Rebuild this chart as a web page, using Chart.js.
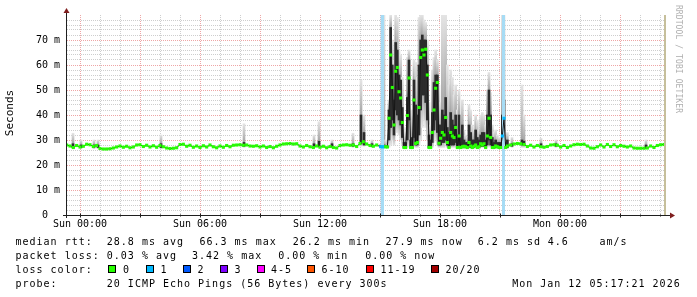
<!DOCTYPE html>
<html><head><meta charset="utf-8">
<script src="https://cdn.jsdelivr.net/npm/chart.js@4/dist/chart.umd.min.js"></script>
<style>
html,body{margin:0;padding:0;background:#fff;}
#wrap{position:relative;width:697px;height:297px;overflow:hidden;background:#fff;}
#c{position:absolute;left:0;top:0;}
.t{position:absolute;font-family:'DejaVu Sans Mono',monospace;font-size:10px;line-height:10px;white-space:pre;color:#000;letter-spacing:1px;}
.sw{position:absolute;box-sizing:border-box;width:8px;height:8px;border:1px solid #000;top:265px;}
.rot{position:absolute;font-family:'DejaVu Sans Mono',monospace;white-space:pre;line-height:10px;height:10px;text-align:center;transform-origin:50% 50%;}
</style></head><body>
<div id="wrap"><canvas id="c" width="697" height="297"></canvas></div>
<script>
// ---------------- data ----------------
const xTickHours = [0, 6, 12, 18, 24];
const xTickLabels = ['Sun 00:00', 'Sun 06:00', 'Sun 12:00', 'Sun 18:00', 'Mon 00:00'];
const yTickValues = [0, 10, 20, 30, 40, 50, 60, 70];
const yTickLabels = ['0  ', '10 m', '20 m', '30 m', '40 m', '50 m', '60 m', '70 m'];

// quiet period before the disturbance: samples every 10 min starting at -40 min (relative to Sun 00:00)
const quietAStartMin = -40, quietAStepMin = 10;
const quietAMedian = [
  28.0, 27.6, 27.0, 27.8,
  27.2, 27.5, 28.3, 28.1, 27.4, 27.8,
  26.6, 26.4, 26.4, 26.5, 26.8, 27.2,
  27.6, 27.1, 27.5, 26.9, 27.2, 28.0,
  28.1, 27.4, 27.9, 27.2, 27.7, 27.1,
  27.8, 27.3, 26.8, 26.6, 26.7, 26.9,
  28.2, 28.3, 27.5, 27.9, 27.1, 27.6,
  27.0, 27.7, 27.2, 28.0, 27.3, 26.9,
  27.6, 27.1, 27.8, 27.3, 27.9, 28.0,
  28.1, 27.9, 28.0, 27.6, 27.5, 27.7,
  27.2, 27.6, 27.0, 27.4, 26.9, 27.5,
  28.0, 28.4, 28.5, 28.6, 28.4, 28.5,
  27.6, 27.2, 27.8, 27.3, 27.0, 27.6,
  27.1, 27.5, 26.9, 27.4, 27.0, 26.8,
  27.8, 28.0, 28.1, 27.9, 28.0, 27.4,
  28.6, 29.3, 28.4, 27.8, 27.5, 28.0
];

// disturbed period: samples every 5 min starting at 902 min
const spikeStartMin = 902, spikeStepMin = 5;
const spikeMedian = [
  27.3, 27.3, 27.3, 27.3, 27.2,  38.7, 64.0, 51.0, 36.0, 57.5,
  59.0, 49.3, 46.8, 37.0, 27.0,  27.0, 39.8, 54.8, 27.0, 27.0,
  46.0, 28.6, 29.0, 43.0, 63.0,  66.0, 64.0, 66.3, 56.0, 27.0,
  27.0, 33.0, 42.0, 50.7, 53.0,  28.7, 30.7, 33.0, 32.0, 39.0,
  29.0, 27.0, 33.0, 31.6, 31.0,  35.0, 27.0, 31.6, 27.0, 27.3,
  27.5, 27.3, 27.0, 29.0, 27.6,  27.0, 27.5, 28.0, 27.0, 27.3,
  28.5, 28.0, 28.5, 27.0, 31.6,  38.7, 31.0, 27.0, 27.0, 27.6,
  27.3, 27.0, 27.0, 31.6, 38.7,  27.0, 27.6
];
const spikeMin = [
  27, 27, 27, 26.8, 26.8,  27, 28, 30, 28, 33,
  33, 32, 30, 28, 26.5,  26.5, 27, 30, 26.5, 26.5,
  28, 27, 27, 28, 30,  35, 38, 35, 30, 26.5,
  26.5, 27, 29, 30, 28,  27, 27, 27, 27, 28,
  27, 26.5, 27, 27, 27,  27, 26.5, 27, 26.5, 26.5,
  26.5, 26.5, 26.5, 27, 26.5,  26.5, 26.5, 27, 26.5, 26.5,
  27, 27, 27, 26.5, 27,  28, 27, 26.5, 26.5, 26.5,
  26.5, 26.5, 26.5, 27, 28,  26.5, 26.5
];
const spikeCoreLo = [
  27, 27, 27, 27, 27,  30, 35, 38, 32, 42,
  40, 38, 36, 31, 27,  27, 30, 38, 27, 27,
  31, 28, 28, 32, 42,  48, 48, 45, 38, 27,
  27, 29, 34, 38, 33,  28, 28, 29, 29, 30,
  28, 27, 28, 28, 28,  29, 27, 28, 27, 27,
  27, 27, 27, 27.5, 27,  27, 27, 27.5, 27, 27,
  27.5, 27.5, 27.5, 27, 28,  30, 28, 27, 27, 27,
  27, 27, 27, 28, 30,  27, 27
];
const spikeCoreHi = [
  28, 28, 28, 27.6, 27.6,  42, 75, 60, 46, 69,
  66, 56, 54, 43, 29,  29, 47, 62, 30, 31,
  54, 44, 40, 60, 70,  72, 70, 70, 60, 32,
  30, 41, 53, 56, 56,  36, 36, 42, 40, 47,
  35, 33, 41, 38, 36,  40, 32, 40, 31, 36,
  30, 29, 29, 36, 33,  30, 30, 34, 31, 30,
  32, 33, 33, 30, 40,  50, 40, 31, 29, 30,
  29, 29, 29, 40, 46,  29, 30
];
const spikeMax = [
  28, 28, 80, 30, 28,  46, 80, 70, 62, 80,
  79, 66, 64, 55, 31,  35, 63, 66, 40, 42,
  62, 61, 55, 79, 80,  80, 78, 77, 70, 45,
  36, 58, 63, 66, 62,  52, 45, 80, 80, 80,
  60, 52, 58, 55, 48,  52, 42, 50, 38, 46,
  34, 32, 31, 44, 42,  36, 34, 40, 38, 34,
  40, 41, 40, 36, 50,  57, 49, 36, 33, 34,
  32, 31, 31, 80, 80,  31, 33
];

// quiet period after the disturbance: every 10 min starting at 1292 min
const quietBStartMin = 1292, quietBStepMin = 10;
const quietBMedian = [
  28.0, 28.4, 28.6, 28.5, 28.2, 27.4,
  27.9, 27.2, 27.8, 27.3, 27.1, 27.4,
  28.0, 28.1, 27.9, 27.2, 27.8, 27.0,
  27.6, 28.1, 28.3, 28.2, 28.3, 27.6,
  26.8, 26.7, 27.3, 28.0, 27.2, 28.2,
  27.4, 28.1, 27.3, 27.8, 27.5, 27.2,
  27.6, 26.8, 26.7, 26.7, 26.7, 26.8,
  27.6, 27.0, 27.8, 28.1, 28.2
];

// isolated smoke spikes in the quiet periods (hours)
const smokeSpotHours  = [-0.35, 0.05, 0.7, 0.9, 4.05, 8.2, 11.7, 11.95, 12.6, 13.65, 14.05, 14.2, 14.6, 21.6, 22.1, 22.2, 23.05, 23.8, 28.3];
const smokeSpotMin    = [26.5, 26.5, 26.5, 26.5, 26.5, 27, 27, 27, 27, 27, 27.5, 27.5, 27, 27, 27, 27, 27, 27, 26.5];
const smokeSpotCoreLo = [27, 27, 27, 27, 27, 27.5, 27.5, 27.5, 27.5, 27.5, 28.5, 28, 27.5, 27.5, 28, 28, 27.5, 27.5, 27];
const smokeSpotCoreHi = [28.5, 28, 28, 28, 28.5, 29, 28.5, 29.5, 28.5, 28.5, 40, 33, 28.5, 28.5, 30, 29.5, 28.5, 28.5, 28];
const smokeSpotMax    = [32.7, 30, 30, 30, 32, 36.5, 32, 37.3, 30, 32.7, 54, 40, 30, 31, 52, 40, 30.7, 30, 30];

// packet loss windows (hours) with 1 of 20 lost
const lossStartHours = [15.03, 21.1];
const lossEndHours   = [15.2, 21.25];
const lossCount      = [1, 1];
const nowHour = 29.25;
const xMinHour = -0.65, xMaxHour = 29.35;
const yMaxMs = 80;

const lossLabels = ['0', '1', '2', '3', '4-5', '6-10', '11-19', '20/20'];
const lossColors = ['#26ff00', '#00b8ff', '#0059ff', '#7e00ff', '#ff00ff', '#ff5500', '#ff0000', '#a10000'];

// ---------------- build datasets ----------------
const medianPts = [];
quietAMedian.forEach((v, i) => medianPts.push({x: (quietAStartMin + i * quietAStepMin) / 60, y: v}));
spikeMedian.forEach((v, i) => medianPts.push({x: (spikeStartMin + i * spikeStepMin) / 60, y: v}));
quietBMedian.forEach((v, i) => medianPts.push({x: (quietBStartMin + i * quietBStepMin) / 60, y: v}));

const outerPts = [], corePts = [];
smokeSpotHours.forEach((h, i) => {
  outerPts.push({x: h, y: [smokeSpotMin[i], smokeSpotMax[i]]});
  corePts.push({x: h, y: [smokeSpotCoreLo[i], smokeSpotCoreHi[i]]});
});
spikeMedian.forEach((v, i) => {
  const h = (spikeStartMin + i * spikeStepMin) / 60;
  outerPts.push({x: h, y: [spikeMin[i], spikeMax[i]]});
  corePts.push({x: h, y: [spikeCoreLo[i], spikeCoreHi[i]]});
});

function lossIndex(h) {
  for (let i = 0; i < lossStartHours.length; i++) {
    if (h >= lossStartHours[i] - 0.01 && h <= lossEndHours[i] + 0.01) return lossCount[i];
  }
  return 0;
}

const RED_GRID = '#eea6a6';
const GRAY_GRID = '#cecece';

const decor = {
  id: 'decor',
  afterDatasetDraw(chart, args) {
    if (args.index !== 1) return;
    const {ctx, chartArea: a, scales: {x}} = chart;
    ctx.save();
    ctx.fillStyle = '#a6dcf5';
    for (let i = 0; i < lossStartHours.length; i++) {
      const x0 = x.getPixelForValue(lossStartHours[i]);
      const x1 = x.getPixelForValue(lossEndHours[i]);
      ctx.fillRect(x0, a.top, x1 - x0, a.bottom - a.top);
    }
    ctx.restore();
  },
  afterDraw(chart) {
    const {ctx, chartArea: a, scales: {x}} = chart;
    ctx.save();
    // now marker
    const nx = x.getPixelForValue(nowHour);
    ctx.fillStyle = '#c6bf9b';
    ctx.fillRect(Math.round(nx) - 1, a.top, 2, a.bottom - a.top);
    // axes
    ctx.strokeStyle = '#1f1f1f';
    ctx.lineWidth = 1;
    ctx.beginPath();
    ctx.moveTo(a.left - 4, a.bottom + 0.5);
    ctx.lineTo(a.right + 4, a.bottom + 0.5);
    ctx.moveTo(a.left - 0.5, a.bottom + 3);
    ctx.lineTo(a.left - 0.5, a.top - 4);
    ctx.stroke();
    // tick marks
    ctx.beginPath();
    x.ticks.forEach(t => {
      const px = Math.round(x.getPixelForValue(t.value)) + 0.5;
      const len = t.value % 3 === 0 ? 2 : 1;
      ctx.moveTo(px, a.bottom - len + 0.5);
      ctx.lineTo(px, a.bottom + len + 0.5);
    });
    ctx.stroke();
    // arrows
    ctx.fillStyle = '#7f1e1e';
    ctx.beginPath();
    ctx.moveTo(a.left - 0.5, a.top - 7);
    ctx.lineTo(a.left - 3.5, a.top - 2);
    ctx.lineTo(a.left + 2.5, a.top - 2);
    ctx.closePath();
    ctx.fill();
    ctx.beginPath();
    ctx.moveTo(a.right + 8, a.bottom + 0.5);
    ctx.lineTo(a.right + 3, a.bottom - 2.5);
    ctx.lineTo(a.right + 3, a.bottom + 3.5);
    ctx.closePath();
    ctx.fill();
    ctx.restore();
  }
};

function outerColor(c) {
  if (!c.raw || !c.chart.chartArea) return '#d8d8d8';
  const y = c.chart.scales.y;
  const core = corePts[c.dataIndex];
  const yHi = y.getPixelForValue(c.raw.y[1]);
  const yLo = y.getPixelForValue(c.raw.y[0]);
  if (yLo - yHi < 2) return '#c8c8c8';
  const g = c.chart.ctx.createLinearGradient(0, yHi, 0, yLo);
  const tH = Math.min(1, Math.max(0, (y.getPixelForValue(core.y[1]) - yHi) / (yLo - yHi)));
  const tL = Math.min(1, Math.max(tH, (y.getPixelForValue(core.y[0]) - yHi) / (yLo - yHi)));
  g.addColorStop(0, '#e4e4e4');
  g.addColorStop(tH, '#a4a4a4');
  g.addColorStop(tL, '#a4a4a4');
  g.addColorStop(1, '#e4e4e4');
  return g;
}

const hourTicks = [];
for (let h = 0; h <= 29; h++) hourTicks.push({value: h});
const msTicks = [];
for (let v = 0; v < yMaxMs; v += 2) msTicks.push({value: v});

new Chart(document.getElementById('c'), {
  data: {
    datasets: [
      {type: 'bar', data: outerPts, order: 2, backgroundColor: outerColor, borderWidth: 0, barThickness: 2, grouped: false},
      {type: 'bar', data: corePts, order: 1, backgroundColor: '#2c2c2c', borderWidth: 0, barThickness: 2, grouped: false},
      {type: 'line', data: medianPts, order: 0, borderColor: '#161616', borderWidth: 1, tension: 0,
       pointStyle: 'rect', pointRadius: 2.2, pointBorderWidth: 0,
       pointBackgroundColor: c => (c.raw && lossIndex(c.raw.x) > 0) ? lossColors[1] : lossColors[0]}
    ]
  },
  options: {
    responsive: false, animation: false, devicePixelRatio: 1,
    layout: {padding: {left: 0, right: 30, top: 15, bottom: 0}},
    plugins: {legend: {display: false}, tooltip: {enabled: false}, title: {display: false}},
    scales: {
      x: {
        type: 'linear', min: xMinHour, max: xMaxHour, offset: false,
        afterBuildTicks: s => { s.ticks = hourTicks.map(t => ({value: t.value})); },
        afterFit: s => { s.height = 82; },
        grid: {offset: false, color: c => (c.tick && c.tick.value % 3 === 0) ? RED_GRID : GRAY_GRID, lineWidth: 1, drawTicks: false},
        border: {display: false, dash: [1, 1]},
        ticks: {autoSkip: false, maxRotation: 0, minRotation: 0, padding: 3, color: '#000',
          font: {family: 'DejaVu Sans Mono', size: 10},
          callback: v => { const i = xTickHours.indexOf(v); return i >= 0 ? xTickLabels[i] : ''; }}
      },
      y: {
        type: 'linear', min: 0, max: yMaxMs, beginAtZero: true,
        afterBuildTicks: s => { s.ticks = msTicks.map(t => ({value: t.value})); },
        afterFit: s => { s.width = 67; },
        grid: {color: c => (c.tick && c.tick.value % 10 === 0) ? RED_GRID : GRAY_GRID, lineWidth: 1, drawTicks: false},
        border: {display: false, dash: [1, 1]},
        ticks: {autoSkip: false, padding: 7, color: '#000',
          font: {family: 'DejaVu Sans Mono', size: 10},
          callback: v => { const i = yTickValues.indexOf(v); return i >= 0 ? yTickLabels[i] : ''; }}
      }
    }
  },
  plugins: [decor]
});

// ---------------- text overlays ----------------
const wrap = document.getElementById('wrap');
function addText(txt, left, top, cls) {
  const d = document.createElement('div');
  d.className = cls || 't';
  d.textContent = txt;
  d.style.left = left + 'px';
  d.style.top = top + 'px';
  wrap.appendChild(d);
  return d;
}
const legendRows = [
  [['median rtt:', 15.5], ['28.8 ms avg', 106.8], ['66.3 ms max', 199.5], ['26.2 ms min', 292.8], ['27.9 ms now', 385.5], ['6.2 ms sd', 477.8], ['4.6', 547.8], ['am/s', 599.5]],
  [['packet loss:', 15.5], ['0.03 % avg', 106.8], ['3.42 % max', 192], ['0.00 % min', 278.2], ['0.00 % now', 365.2]],
  [['loss color:', 15.5]],
  [['probe:', 15.5], ['20 ICMP Echo Pings (56 Bytes) every 300s', 106.8], ['Mon Jan 12 05:17:21 2026', 512.2]]
];
const rowTops = [236.5, 250.5, 264.5, 278.5];
legendRows.forEach((row, r) => row.forEach(([s, x]) => addText(s, x, rowTops[r])));

const swatchLeft = [108, 146, 183, 220, 257, 307, 366, 431];
const swatchLabelLeft = [123, 160.5, 197.5, 234.5, 271, 321.5, 380.5, 445.5];
lossLabels.forEach((lab, i) => {
  const s = document.createElement('div');
  s.className = 'sw';
  s.style.left = swatchLeft[i] + 'px';
  s.style.background = lossColors[i];
  wrap.appendChild(s);
  addText(lab, swatchLabelLeft[i], rowTops[2]);
});

// axis title (rotated), box centred on an integer pixel so the glyphs stay crisp
const yt = document.createElement('div');
yt.className = 'rot';
yt.textContent = 'Seconds';
yt.style.fontSize = '11px';
yt.style.width = '60px';
yt.style.color = '#000';
yt.style.left = (10 - 30) + 'px';
yt.style.top = (113 - 5) + 'px';
yt.style.transform = 'rotate(-90deg)';
wrap.appendChild(yt);

// watermark
const wm = document.createElement('div');
wm.className = 'rot';
wm.textContent = 'RRDTOOL / TOBI OETIKER';
wm.style.fontSize = '8px';
wm.style.letterSpacing = '0.1px';
wm.style.width = '120px';
wm.style.color = '#b0b0b0';
wm.style.left = (678 - 60) + 'px';
wm.style.top = (59 - 5) + 'px';
wm.style.transform = 'rotate(90deg)';
wrap.appendChild(wm);
</script>
</body></html>
